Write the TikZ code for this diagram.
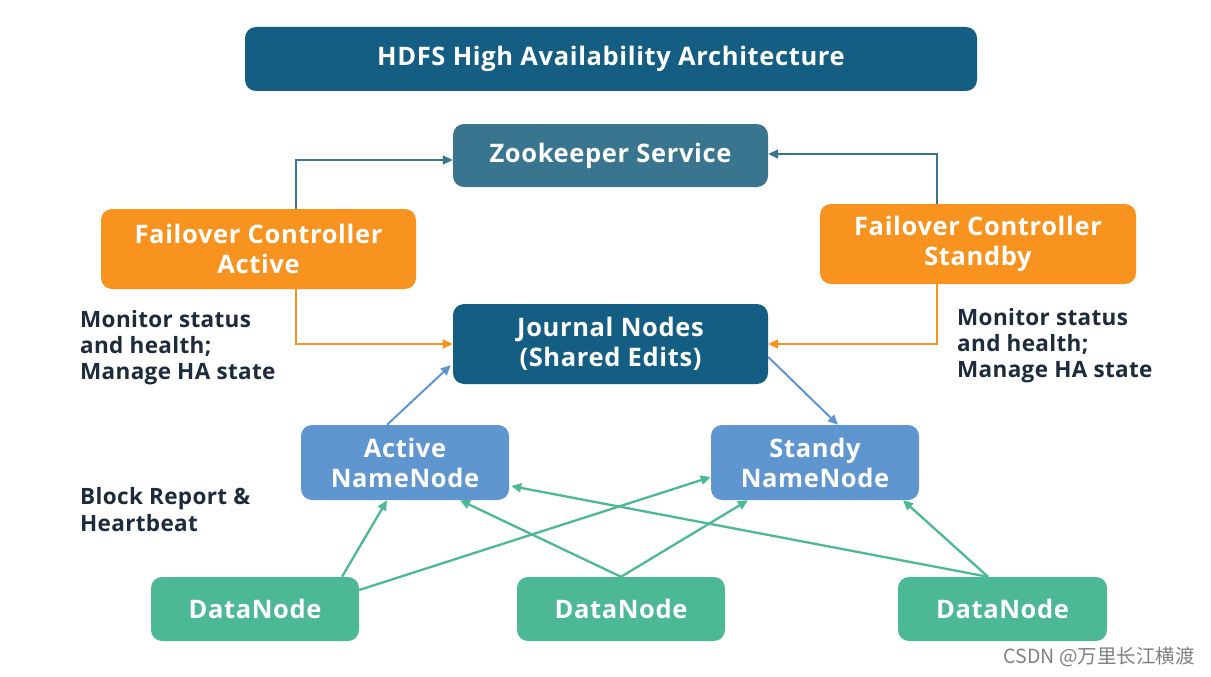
\documentclass[tikz,border=0pt]{standalone}
\usepackage{fontspec}
\setmainfont{Open Sans}
\newfontfamily\boxfont{Open Sans}[LetterSpace=2.5]
\newfontfamily\lblfont{Open Sans}[LetterSpace=1.5]
\newfontfamily\cjk{Noto Sans CJK SC}
\usetikzlibrary{arrows.meta}
\definecolor{dblue}{HTML}{135E82}
\definecolor{zteal}{HTML}{3A7590}
\definecolor{orng}{HTML}{F7931E}
\definecolor{nblue}{HTML}{5F96CF}
\definecolor{dgreen}{HTML}{4DB896}
\definecolor{navy}{HTML}{1E2B3C}
\begin{document}
\begin{tikzpicture}[x=1pt,y=-1pt,
  box/.style={rounded corners=11pt, inner sep=0pt, align=center, text=white,
    font=\boxfont\bfseries\fontsize{25.5}{30}\selectfont},
  lbl/.style={anchor=north west, inner sep=0pt, align=left, text=navy,
    font=\lblfont\bfseries\fontsize{22.5}{26}\selectfont},
  tip/.style={-{Triangle[length=10pt,width=9pt]}},
  zarr/.style={tip, draw=zteal, line width=1.8pt},
  oarr/.style={tip, draw=orng, line width=1.8pt},
  barr/.style={tip, draw=nblue, line width=2pt},
  garr/.style={tip, draw=dgreen, line width=2.3pt}]
\fill[white] (0,0) rectangle (1211,677);
\useasboundingbox (0,0) rectangle (1211,677);

\node[box, fill=dblue, minimum width=732pt, minimum height=64pt] (title) at (611,59) {HDFS High Availability Architecture};
\node[box, fill=zteal, minimum width=315pt, minimum height=63pt] (zk) at (610.5,155.5) {Zookeeper Service};
\node[box, fill=orng, minimum width=315pt, minimum height=80pt] (fca) at (258.5,249) {Failover Controller\\Active};
\node[box, fill=orng, minimum width=316pt, minimum height=80pt] (fcs) at (978,244) {Failover Controller\\Standby};
\node[box, fill=dblue, minimum width=315pt, minimum height=80pt] (jn) at (610.5,344) {Journal Nodes\\(Shared Edits)};
\node[box, fill=nblue, minimum width=208pt, minimum height=75pt] (ann) at (405,462.5) {Active\\NameNode};
\node[box, fill=nblue, minimum width=208pt, minimum height=75pt] (snn) at (815,462.5) {Standy\\NameNode};
\node[box, fill=dgreen, minimum width=208pt, minimum height=64pt] (dn1) at (255,609) {DataNode};
\node[box, fill=dgreen, minimum width=208pt, minimum height=64pt] (dn2) at (621,609) {DataNode};
\node[box, fill=dgreen, minimum width=209pt, minimum height=64pt] (dn3) at (1002.5,609) {DataNode};

\node[lbl] (l1) at (80,310) {Monitor status\\and health;\\Manage HA state};
\node[lbl] (l2) at (957,308) {Monitor status\\and health;\\Manage HA state};
\node[lbl, font=\lblfont\bfseries\fontsize{22.5}{27}\selectfont] (l3) at (80,487) {Block Report \&\\Heartbeat};

\node[anchor=east, inner sep=0pt, text=black!50, font=\cjk\fontsize{19.5}{19.5}\selectfont] (csdn) at (1195,657) {CSDN @万里长江横渡};

\draw[zarr] ([xshift=37.5pt]fca.north) |- ([yshift=-4.5pt]zk.west);
\draw[zarr] ([xshift=-41pt]fcs.north) |- ([yshift=1.5pt]zk.east);
\draw[oarr] ([xshift=37.5pt]fca.south) |- (jn.west);
\draw[oarr] ([xshift=-41pt]fcs.south) |- (jn.east);
\draw[barr] ([xshift=-18pt]ann.north) -- ([xshift=-2pt,yshift=19pt]jn.south west);
\draw[barr] ([yshift=-13pt]jn.east) -- ([xshift=23pt]snn.north);

\draw[garr] ([xshift=87pt]dn1.north) -- ([xshift=-18pt]ann.south);
\draw[garr] ([yshift=19pt]dn1.east) -- ([yshift=-14.5pt]snn.west);
\draw[garr] (dn2.north) -- ([xshift=55pt]ann.south);
\draw[garr] (dn2.north) -- ([xshift=-67pt]snn.south);
\draw[garr] ([xshift=-14.5pt]dn3.north) -- ([xshift=2pt,yshift=-23.5pt]ann.east);
\draw[garr] ([xshift=-14.5pt]dn3.north) -- ([xshift=88pt]snn.south);
\end{tikzpicture}
\end{document}
